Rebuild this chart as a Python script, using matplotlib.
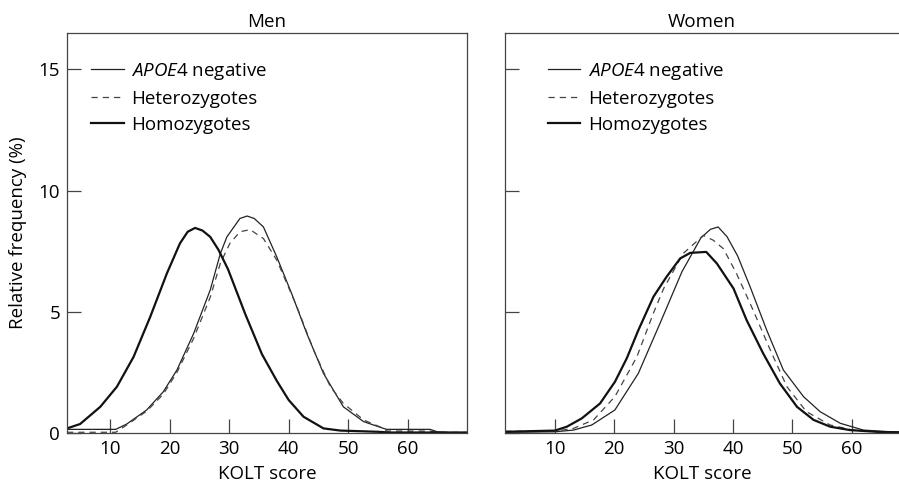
import matplotlib
matplotlib.use('Agg')
import matplotlib.pyplot as plt

plt.rcParams['font.family'] = ['Open Sans', 'DejaVu Sans']
plt.rcParams['mathtext.fontset'] = 'custom'
plt.rcParams['mathtext.it'] = 'Open Sans:italic'
plt.rcParams['mathtext.rm'] = 'Open Sans'

# men
men_neg_x = [2.7, 10.9, 12.75, 16.1, 18.9, 21.2, 24.0, 26.8, 28.5, 29.6, 31.8, 33.0, 34.2, 35.75, 38.0, 40.5, 43.05, 45.85, 49.2, 52.6, 55.95, 56.5, 63.8, 65.0, 67.0, 70.0]
men_neg_y = [0.15, 0.15, 0.37, 0.95, 1.7, 2.6, 4.1, 5.9, 7.4, 8.09, 8.85, 8.95, 8.85, 8.5, 7.26, 5.75, 4.1, 2.46, 1.08, 0.47, 0.19, 0.15, 0.15, 0.05, 0.02, 0.02]
men_het_x = [2.7, 10.9, 12.75, 16.1, 18.9, 21.2, 24.0, 26.8, 28.5, 30.1, 31.8, 33.5, 35.75, 38.0, 41.4, 44.2, 47.0, 49.2, 52.6, 55.95, 56.5, 63.8, 65.0, 70.0]
men_het_y = [0.03, 0.03, 0.33, 0.9, 1.6, 2.5, 3.9, 5.6, 7.0, 7.82, 8.3, 8.39, 8.02, 7.13, 5.2, 3.42, 1.91, 1.22, 0.54, 0.19, 0.08, 0.08, 0.03, 0.02]
men_hom_x = [2.7, 4.9, 8.3, 11.1, 13.9, 16.7, 19.5, 21.7, 23.0, 24.25, 25.5, 26.8, 28.2, 29.8, 32.7, 35.5, 38.0, 40.0, 42.5, 45.85, 48.7, 55.0, 57.0, 70.0]
men_hom_y = [0.19, 0.37, 1.08, 1.91, 3.14, 4.79, 6.58, 7.82, 8.3, 8.46, 8.35, 8.09, 7.55, 6.75, 4.9, 3.25, 2.15, 1.36, 0.67, 0.19, 0.1, 0.05, 0.02, 0.02]

# women
wom_neg_x = [1.6, 10.0, 13.1, 16.2, 20.1, 24.05, 27.7, 31.4, 34.6, 36.2, 37.5, 39.0, 40.8, 42.9, 45.7, 48.5, 51.9, 54.7, 58.1, 62.0, 68.0]
wom_neg_y = [0.03, 0.05, 0.12, 0.33, 0.95, 2.46, 4.52, 6.65, 8.05, 8.4, 8.5, 8.1, 7.3, 6.03, 4.24, 2.6, 1.5, 0.88, 0.4, 0.12, 0.03]
wom_het_x = [1.6, 10.0, 13.1, 16.5, 20.1, 23.8, 26.6, 28.3, 31.6, 35.0, 36.7, 38.4, 40.6, 43.4, 46.3, 49.1, 52.4, 56.4, 60.3, 65.4, 68.0]
wom_het_y = [0.07, 0.07, 0.19, 0.54, 1.5, 3.14, 4.95, 5.95, 7.4, 8.15, 7.95, 7.6, 6.58, 5.07, 3.42, 1.91, 0.88, 0.33, 0.12, 0.04, 0.03]
wom_hom_x = [1.6, 10.0, 12.0, 14.5, 17.6, 20.1, 22.1, 24.05, 26.6, 28.8, 31.1, 32.8, 35.5, 37.3, 40.1, 42.3, 45.1, 47.9, 50.8, 53.6, 56.4, 59.75, 64.8, 68.0]
wom_hom_y = [0.05, 0.1, 0.26, 0.6, 1.22, 2.11, 3.08, 4.24, 5.62, 6.44, 7.2, 7.43, 7.47, 6.99, 5.96, 4.66, 3.28, 2.05, 1.08, 0.54, 0.26, 0.12, 0.04, 0.03]

labels = [r'$\mathit{APOE}$4 negative', 'Heterozygotes', 'Homozygotes']
xticks = [10, 20, 30, 40, 50, 60]
yticks = [0, 5, 10, 15]
fs = 13.5

fig = plt.figure(figsize=(8.99, 4.84), dpi=100)
ax1 = fig.add_axes([67/899, 1-433/484, 400/899, 400/484])
ax2 = fig.add_axes([505/899, 1-433/484, 394/899, 400/484])

panels = [
    (ax1, 'Men', (2.7, 70), men_neg_x, men_neg_y, men_het_x, men_het_y, men_hom_x, men_hom_y, 0.06),
    (ax2, 'Women', (1.57, 68.0), wom_neg_x, wom_neg_y, wom_het_x, wom_het_y, wom_hom_x, wom_hom_y, 0.108),
]

for ax, title, xl, nx, ny, hx, hy, mx, my, lx in panels:
    ax.plot(nx, ny, color='#222222', lw=0.9, label=labels[0])
    ax.plot(hx, hy, color='#444444', lw=0.9, dashes=(5, 4), label=labels[1])
    ax.plot(mx, my, color='#111111', lw=1.6, label=labels[2])
    ax.set_xlim(xl)
    ax.set_ylim(0, 16.5)
    ax.set_xticks(xticks)
    ax.set_yticks(yticks)
    ax.tick_params(direction='in', length=10, width=0.9, color='#444444', labelsize=fs, pad=5)
    for s in ax.spines.values():
        s.set_color('#444444')
        s.set_linewidth(0.9)
    ax.set_title(title, fontsize=fs, pad=4)
    ax.set_xlabel('KOLT score', fontsize=fs, labelpad=5)
    ax.legend(loc='upper left', bbox_to_anchor=(lx, 0.93), frameon=False, fontsize=fs,
              handlelength=1.75, handletextpad=0.4, labelspacing=0.42, borderaxespad=0, borderpad=0)

ax1.set_ylabel('Relative frequency (%)', fontsize=fs, labelpad=8)
ax2.set_yticklabels([])
ax2.spines['right'].set_visible(False)

fig.savefig('out.png', dpi=100)
